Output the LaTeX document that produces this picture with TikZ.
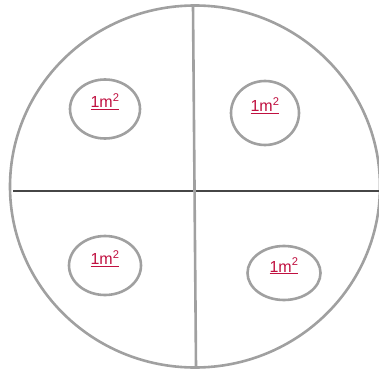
\documentclass[tikz,border=0pt]{standalone}
\usepackage{fontspec}
\setmainfont{Liberation Sans}
\usetikzlibrary{shapes.geometric}
\definecolor{rimgray}{RGB}{160,160,160}
\definecolor{axisgray}{RGB}{70,70,70}
\definecolor{arealabel}{RGB}{192,16,64}

\begin{document}
\begin{tikzpicture}[x=1pt, y=-1pt,
  rim/.style={draw=rimgray, line width=2.6pt},
  areabox/.style={ellipse, draw=rimgray, line width=2.6pt, inner sep=0pt, text=arealabel, text height=11pt, text depth=13pt, font=\fontsize{16}{18}\selectfont},
  divider/.style={draw=axisgray, line width=1.1pt},
]
\useasboundingbox (0,0) rectangle (379,374);

% Outer disc
\node[ellipse, rim, minimum width=370pt, minimum height=362pt, inner sep=0pt] (disc) at (195,186.5) {};

% Dividing lines
\coordinate (topend) at (193,6);
\coordinate (botend) at (196,367);
\coordinate (leftend) at (13,191);
\coordinate (rightend) at (381,191);
\draw[divider] (leftend) -- (rightend);
\draw[rim] (topend) -- (botend);

% Quarter areas
\node[areabox, minimum width=70pt, minimum height=59pt] (qa) at (105,109) {\underline{1m\textsuperscript{2}}};
\node[areabox, minimum width=68pt, minimum height=64pt] (qb) at (265,113) {\underline{1m\textsuperscript{2}}};
\node[areabox, minimum width=72pt, minimum height=59pt] (qc) at (105,265.5) {\underline{1m\textsuperscript{2}}};
\node[areabox, minimum width=73pt, minimum height=54pt] (qd) at (284,273) {\underline{1m\textsuperscript{2}}};
\end{tikzpicture}
\end{document}
